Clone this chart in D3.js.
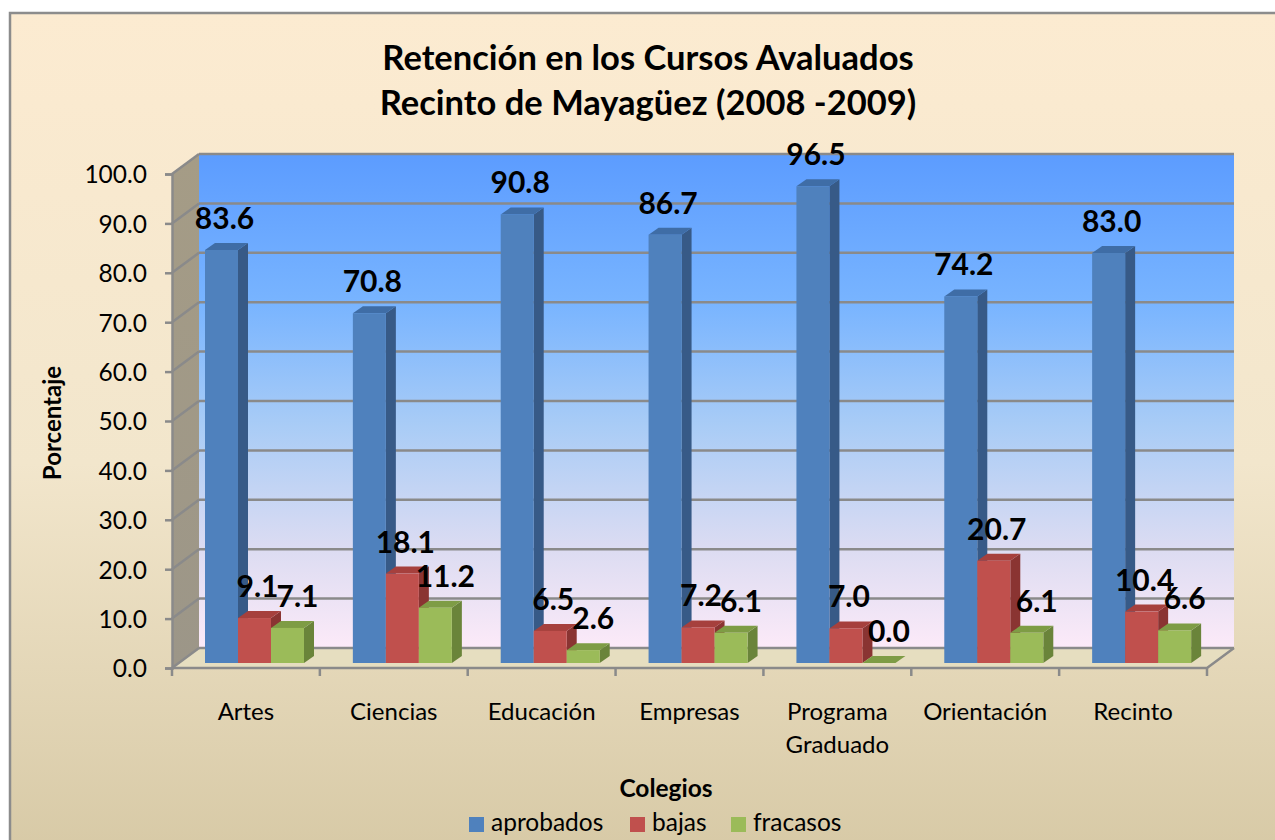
<!DOCTYPE html>
<html><head><meta charset="utf-8">
<script src="https://cdn.jsdelivr.net/npm/d3@7"></script>
<style>
body{margin:0;background:#fff;}
text{font-family:Lato,"Open Sans",sans-serif;fill:#000;}
</style>
</head><body>
<svg id="c" width="1275" height="840"></svg>
<script>
// ---- data ----
const categories = ["Artes","Ciencias","Educación","Empresas","Programa Graduado","Orientación","Recinto"];
const seriesNames = ["aprobados","bajas","fracasos"];
const aprobados = [83.6,70.8,90.8,86.7,96.5,74.2,83.0];
const bajas = [9.1,18.1,6.5,7.2,7.0,20.7,10.4];
const fracasos = [7.1,11.2,2.6,6.1,0.0,6.1,6.6];
const yTicks = [0,10,20,30,40,50,60,70,80,90,100];
const titleLines = ["Retención en los Cursos Avaluados","Recinto de Mayagüez (2008 -2009)"];
const xTitle = "Colegios";
const yTitle = "Porcentaje";

const seriesValues = [aprobados,bajas,fracasos];
const colors = [
  {front:"#4F81BD", top:"#3F6DA6", side:"#375A87"},
  {front:"#C0504D", top:"#A6403D", side:"#8A3432"},
  {front:"#9BBB59", top:"#7E9C45", side:"#6A843A"}
];

const svg = d3.select("#c");
const defs = svg.append("defs");

function grad(id, stops){
  const g = defs.append("linearGradient").attr("id",id).attr("x1",0).attr("y1",0).attr("x2",0).attr("y2",1);
  stops.forEach(s=>g.append("stop").attr("offset",s[0]).attr("stop-color",s[1]));
}
grad("bgG",[[0,"#FCEBD1"],[0.5,"#F2E6CC"],[1,"#D3C5A0"]]);
grad("wallG",[[0,"#5C9CFF"],[0.3,"#78B4FF"],[0.55,"#A9CCF6"],[0.8,"#DCDCF2"],[1,"#FCEAF8"]]);
grad("sideG",[[0,"#A59C86"],[1,"#9C9688"]]);

// chart background
svg.append("rect").attr("x",10).attr("y",13).attr("width",1300).attr("height",900)
  .attr("fill","url(#bgG)").attr("stroke","#8C8C8C").attr("stroke-width",2.5);

// geometry
const fx0 = 172, fx1 = 1207;       // front floor edge
const ddx = 27, ddy = -20;        // wall depth offset
const yFront = d3.scaleLinear().domain([0,100]).range([668,174]);
const yBar = d3.scaleLinear().domain([0,100]).range([663,169]);
const x0 = d3.scaleBand().domain(categories).range([fx0,fx1]).paddingInner(0).paddingOuter(0);
const x1 = d3.scaleBand().domain(seriesNames).range([33,132]);
const bdx = 10, bdy = -7;         // bar depth
const gridCol = "#8A8A8A";

const bx0 = fx0+ddx, bx1 = fx1+ddx;
// back wall
svg.append("rect").attr("x",bx0).attr("y",yFront(100)+ddy).attr("width",bx1-bx0)
  .attr("height",yFront(0)-yFront(100)).attr("fill","url(#wallG)");
// left side wall
svg.append("polygon").attr("points",[[fx0,yFront(100)],[bx0,yFront(100)+ddy],[bx0,yFront(0)+ddy],[fx0,yFront(0)]].map(p=>p.join(",")).join(" "))
  .attr("fill","url(#sideG)");
// floor
svg.append("polygon").attr("points",[[fx0,yFront(0)],[bx0,yFront(0)+ddy],[bx1,yFront(0)+ddy],[fx1,yFront(0)]].map(p=>p.join(",")).join(" "))
  .attr("fill","#E6DEC0");

// gridlines
const grid = svg.append("g").attr("stroke",gridCol).attr("stroke-width",2.5).attr("fill","none");
yTicks.forEach(t=>{
  const yb = yFront(t)+ddy;
  grid.append("line").attr("x1",bx0).attr("x2",bx1).attr("y1",yb).attr("y2",yb);
  grid.append("line").attr("x1",fx0).attr("x2",bx0).attr("y1",yFront(t)).attr("y2",yb);
});
// floor outline (front + right)
grid.append("polyline").attr("points",[[fx0,yFront(0)],[fx1,yFront(0)],[bx1,yFront(0)+ddy]].map(p=>p.join(",")).join(" "));

// y axis
const yAxisG = svg.append("g").attr("transform",`translate(${fx0},0)`)
  .call(d3.axisLeft(yFront).tickValues(yTicks).tickFormat(d3.format(".1f")).tickSize(7).tickPadding(18));
yAxisG.select(".domain").attr("stroke",gridCol).attr("stroke-width",2.5);
yAxisG.selectAll(".tick line").attr("stroke",gridCol).attr("stroke-width",2.5);
yAxisG.selectAll(".tick text").attr("font-size",24.5).attr("font-family","Lato").attr("fill","#000").attr("dy","0.36em");

// x axis ticks
const xAxisG = svg.append("g").attr("transform",`translate(0,${yFront(0)})`)
  .call(d3.axisBottom(x0).tickSize(0).tickFormat(""));
xAxisG.select(".domain").remove();
const bounds = categories.map(c=>x0(c)).concat([fx1]);
xAxisG.selectAll("line.b").data(bounds).join("line").attr("class","b")
  .attr("x1",d=>d).attr("x2",d=>d).attr("y1",0).attr("y2",8).attr("stroke",gridCol).attr("stroke-width",2.5);
// category labels
const catText = svg.append("g").selectAll("text").data(categories).join("text")
  .attr("x",d=>x0(d)+x0.bandwidth()/2).attr("y",720).attr("text-anchor","middle").attr("font-size",24);
catText.each(function(d){
  const parts = d.split(" ");
  const t = d3.select(this);
  parts.forEach((p,i)=>t.append("tspan").attr("x",x0(d)+x0.bandwidth()/2).attr("dy",i===0?0:33).text(p));
});

// bars
const bars = svg.append("g");
categories.forEach((c,ci)=>{
  seriesNames.forEach((s,si)=>{
    const v = seriesValues[si][ci];
    const xl = x0(c)+x1(s), xr = xl+x1.bandwidth();
    const yt = yBar(v), yb = yBar(0);
    const col = colors[si];
    const g = bars.append("g");
    g.append("polygon").attr("points",[[xr,yt],[xr+bdx,yt+bdy],[xr+bdx,yb+bdy],[xr,yb]].map(p=>p.join(",")).join(" ")).attr("fill",col.side);
    g.append("polygon").attr("points",[[xl,yt],[xl+bdx,yt+bdy],[xr+bdx,yt+bdy],[xr,yt]].map(p=>p.join(",")).join(" ")).attr("fill",col.top);
    if (v>0) g.append("rect").attr("x",xl).attr("y",yt).attr("width",xr-xl).attr("height",yb-yt).attr("fill",col.front);
  });
});

// data labels
const labOff = [3,3,10];
const labels = svg.append("g");
categories.forEach((c,ci)=>{
  seriesNames.forEach((s,si)=>{
    const v = seriesValues[si][ci];
    labels.append("text").attr("x",x0(c)+x1(s)+x1.bandwidth()/2+labOff[si]).attr("y",yBar(v)-21)
      .attr("text-anchor","middle").attr("font-size",30).attr("font-weight","bold").text(d3.format(".1f")(v));
  });
});

// titles
svg.append("g").selectAll("text").data(titleLines).join("text")
  .attr("x",648).attr("y",(d,i)=>70+i*45).attr("text-anchor","middle").attr("font-size",34.5).attr("font-weight","bold").text(d=>d);
svg.append("text").attr("transform","translate(61,423) rotate(-90)").attr("text-anchor","middle")
  .attr("font-size",24).attr("font-weight","bold").text(yTitle);
svg.append("text").attr("x",666).attr("y",797).attr("text-anchor","middle").attr("font-size",24.5).attr("font-weight","bold").text(xTitle);

// legend
const legX = [469,630,731];
const leg = svg.append("g").selectAll("g").data(seriesNames).join("g").attr("transform",(d,i)=>`translate(${legX[i]},817)`);
leg.append("rect").attr("width",15).attr("height",15).attr("fill",(d,i)=>colors[i].front);
leg.append("text").attr("x",22).attr("y",14).attr("font-size",24.5).text(d=>d);
</script>
</body></html>
